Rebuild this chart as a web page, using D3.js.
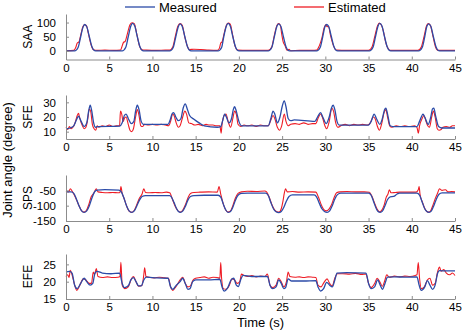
<!DOCTYPE html>
<html>
<head>
<meta charset="utf-8">
<script src="https://cdn.jsdelivr.net/npm/d3@7"></script>
<style>
  body { margin: 0; background: #fff; }
  text { font-family: "Liberation Sans", Arial, sans-serif; }
  .axis path, .axis line { stroke: #8c8c8c; }
  .axis text { fill: #000; font-size: 11.5px; }
</style>
</head>
<body>
<div id="chart-area"></div>
<script>
const canvas_width = 462;
const canvas_height = 331;

// time axis
const xTicks = [0, 5, 10, 15, 20, 25, 30, 35, 40, 45];

// panel names, y domains and y ticks
const panelNames = ['SAA', 'SFE', 'SPS', 'EFE'];
const yDomains = [[-30, 130], [5, 35], [-150, 0], [15, 28]];
const yTicks = [[0, 50, 100], [10, 20, 30], [-150, -100, -50], [15, 20, 25]];

// series: [time (s), angle (degree)]
const saaMeasured = [[0,0],[1.0,0],[1.4,12],[1.7,50],[1.95,82],[2.15,93],[2.4,85],[2.7,50],[3.0,15],[3.3,1],[3.6,0],
  [6.5,0],[6.9,12],[7.2,50],[7.5,88],[7.7,97],[7.95,88],[8.25,50],[8.55,15],[8.85,1],[9.1,0],
  [12.0,0],[12.4,12],[12.7,50],[13.0,86],[13.2,95],[13.45,86],[13.75,50],[14.05,15],[14.35,1],[14.6,0],
  [17.6,0],[18.0,12],[18.25,50],[18.55,88],[18.75,97],[19.0,88],[19.3,50],[19.6,15],[19.9,1],[20.2,0],
  [23.4,0],[23.8,12],[24.1,50],[24.4,87],[24.6,95],[24.85,87],[25.15,50],[25.45,15],[25.75,1],[26.0,0],
  [29.0,0],[29.4,12],[29.7,50],[29.95,85],[30.15,93],[30.4,85],[30.7,50],[31.0,15],[31.3,1],[31.6,0],
  [35.1,0],[35.5,12],[35.8,50],[36.1,88],[36.3,97],[36.55,88],[36.85,50],[37.15,15],[37.45,1],[37.7,0],
  [40.8,0],[41.2,12],[41.5,50],[41.75,87],[41.95,95],[42.2,87],[42.5,50],[42.8,15],[43.1,1],[43.4,0],[45,0]];

const saaEstimated = [[0,1],[0.9,2],[1.15,14],[1.3,28],[1.5,32],[1.75,62],[1.95,85],[2.15,92],[2.35,90],[2.6,60],[2.9,22],[3.2,4],[3.6,2],[4.5,3],[5.5,2],
  [6.3,3],[6.5,18],[6.65,30],[6.85,34],[7.1,60],[7.4,92],[7.65,99],[7.9,96],[8.2,58],[8.5,18],[8.8,4],[9.3,3],[10.5,2],[11.5,3],
  [12.0,3],[12.35,14],[12.65,52],[12.95,88],[13.2,96],[13.45,90],[13.7,55],[14.0,20],[14.3,5],[14.8,6],[15.6,5],[16.5,3],[17.5,2],
  [17.75,10],[17.9,28],[18.05,32],[18.3,62],[18.55,90],[18.75,98],[19.0,94],[19.25,60],[19.55,18],[19.85,3],[21,2],[22.5,2],
  [23.4,2],[23.8,14],[24.1,55],[24.4,90],[24.6,96],[24.8,90],[24.95,60],[25.1,35],[25.35,18],[25.55,3],[25.8,6],[26.0,1],[27,2],[28.5,2],
  [29.0,3],[29.3,18],[29.6,45],[29.85,80],[30.05,92],[30.2,85],[30.35,88],[30.6,55],[30.95,18],[31.3,3],[32.5,2],[34,2],
  [35.0,2],[35.4,14],[35.75,55],[36.05,90],[36.25,98],[36.5,90],[36.75,65],[36.95,35],[37.2,12],[37.5,2],[39,2],
  [40.7,2],[41.1,14],[41.45,55],[41.7,88],[41.9,96],[42.15,90],[42.45,52],[42.75,14],[43.05,2],[45,2]];

const sfeMeasured = [[0,12],[0.5,12.5],[0.9,14],[1.2,18],[1.45,20.5],[1.75,17],[2.1,13.5],[2.4,16],[2.65,25],[2.8,28],[2.95,25],[3.2,16],[3.4,13],[3.7,13.5],[6.2,13.8],
  [6.5,16],[6.75,21],[6.95,22],[7.2,19],[7.55,15.5],[7.85,17],[8.05,24],[8.25,28],[8.45,25],[8.7,17],[8.95,15],[10,15],[11.8,15],
  [12.05,18],[12.3,22.5],[12.45,23],[12.7,20],[13.0,17.5],[13.3,19],[13.55,26],[13.8,29],[14.0,26],[14.3,21],[14.8,18.5],[15.4,16],[16,14],[17.5,13],[17.9,13.5],
  [18.1,17],[18.35,22],[18.55,20],[18.85,16],[19.15,19],[19.35,25],[19.5,27],[19.7,24],[20.0,17],[20.3,14],[21,14],[23.4,14],
  [23.7,19],[23.95,24],[24.15,22],[24.45,16],[24.75,20],[25.0,27],[25.25,31],[25.45,27],[25.7,19],[26,17.5],[26.4,18],[28.8,17],
  [29.1,20],[29.45,23],[29.7,20],[30.1,15.5],[30.45,20],[30.7,26],[30.9,28],[31.1,25],[31.35,17],[31.6,14.5],[35,14.5],
  [35.3,17],[35.65,22],[35.9,19],[36.3,15],[36.6,19],[36.85,25],[37.0,26],[37.2,22],[37.5,14],[37.8,13.5],[40.6,13.5],
  [40.9,17],[41.3,22],[41.5,20],[41.9,15],[42.2,20],[42.4,25.5],[42.55,26],[42.75,21],[43.1,13.5],[43.5,12.5],[45,12.5]];

const sfeEstimated = [[0,13],[0.2,11.5],[0.4,13.5],[0.6,12],[0.8,13],[1.05,16],[1.3,21],[1.45,22.5],[1.6,19],[1.9,14],[2.1,12],[2.3,13],[2.5,18],[2.7,25.5],[2.85,24],[3.05,15],[3.25,12],[3.45,11],[3.6,14],[3.8,13],[4.2,14],[4.6,13.5],[5.0,14.5],[5.4,13.5],[5.8,14],[6.2,14],
  [6.3,24],[6.45,22],[6.6,17],[6.8,19.5],[6.95,20],[7.2,15],[7.4,11],[7.6,10],[7.8,12],[8.05,20],[8.25,25],[8.45,21],[8.65,14],[8.85,13.5],[9.1,15],[9.5,14.5],[10,15],[10.5,14.5],[11,15],[11.5,14.5],[11.9,14],
  [12.1,17],[12.35,22],[12.5,21],[12.75,16],[13.0,13],[13.2,14],[13.5,20],[13.75,24],[13.95,22],[14.2,16],[14.5,15.5],[14.9,14.5],[15.3,15],[15.8,14],[16.2,15],[16.6,14.5],[17.0,14.5],[17.4,14],[17.8,14],
  [17.95,9],[18.05,15],[18.3,21],[18.5,22],[18.8,16],[19.05,13],[19.3,19],[19.5,24],[19.7,22],[19.9,15],[20.2,13.5],[20.6,14.5],[21,14],[21.5,14.5],[22,13.5],[22.5,14.5],[23,14],[23.4,14],
  [23.7,18],[23.95,21],[24.15,19],[24.45,13],[24.7,11],[24.95,14],[25.25,22],[25.45,17],[25.7,14],[26,15],[26.5,15.5],[27,15],[27.5,16],[28,15],[28.5,15.5],[28.9,15.5],
  [29.15,19],[29.45,22],[29.65,20],[29.95,14],[30.15,12],[30.45,17],[30.75,26],[30.95,24],[31.2,16],[31.45,13],[31.8,14],[32.3,15],[32.8,14],[33.3,15],[33.8,14.5],[34.3,15],[34.9,14.5],
  [35.2,16],[35.55,20],[35.75,19],[36.0,14],[36.25,11],[36.5,15],[36.8,23],[37.0,25],[37.2,20],[37.45,14],[37.7,13],[38.2,14],[38.7,13.5],[39.2,14],[39.7,13.5],[40.3,14],[40.6,13],
  [40.75,9],[40.9,14],[41.2,19],[41.4,21],[41.6,18],[41.85,14],[42.05,13],[42.3,20],[42.5,24],[42.7,20],[42.95,12],[43.15,11],[43.4,11.5],[43.6,13],[44,13.5],[44.4,13],[44.7,14],[45,14]];

const spsMeasured = [[0,-55],[0.6,-55],[0.9,-60],[1.2,-78],[1.5,-100],[1.8,-117],[2.1,-122],[2.4,-117],[2.7,-100],[3.0,-75],[3.3,-55],[3.6,-49],[4.5,-48],[6.1,-49],
  [6.4,-55],[6.7,-75],[7.0,-100],[7.3,-117],[7.6,-122],[7.9,-117],[8.2,-100],[8.5,-82],[8.8,-70],[9.2,-67],[10.5,-67],[12,-67],
  [12.2,-72],[12.5,-90],[12.8,-110],[13.0,-119],[13.25,-122],[13.5,-118],[13.8,-103],[14.1,-82],[14.4,-70],[14.8,-67],[16,-66],[17.6,-66],
  [17.9,-72],[18.2,-95],[18.5,-115],[18.75,-122],[19.0,-120],[19.3,-105],[19.6,-82],[19.9,-66],[20.3,-60],[21,-59],[23.1,-59],
  [23.4,-67],[23.7,-90],[24.0,-110],[24.3,-120],[24.6,-123],[24.9,-119],[25.2,-105],[25.5,-85],[25.8,-70],[26.2,-65],[28.7,-65],
  [29.0,-72],[29.3,-92],[29.6,-110],[29.9,-119],[30.2,-122],[30.5,-117],[30.8,-100],[31.1,-78],[31.4,-64],[31.8,-59],[35,-59],
  [35.3,-66],[35.6,-88],[35.9,-110],[36.1,-119],[36.35,-122],[36.6,-118],[36.9,-100],[37.2,-80],[37.5,-71],[37.9,-70],[38.3,-62],[38.6,-59],[40.6,-59],
  [40.9,-66],[41.2,-88],[41.5,-110],[41.75,-119],[42.0,-122],[42.25,-118],[42.55,-100],[42.85,-78],[43.15,-63],[43.5,-58],[45,-58]];

const spsEstimated = [[0,-52],[0.3,-55],[0.5,-45],[0.7,-52],[0.9,-62],[1.2,-80],[1.5,-100],[1.8,-116],[2.05,-121],[2.35,-116],[2.65,-95],[2.9,-72],[3.2,-60],[3.5,-45],[3.7,-55],[4.2,-57],[4.8,-58],[5.4,-57],[6.0,-58],[6.25,-57],
  [6.35,-38],[6.5,-60],[6.7,-75],[7.0,-100],[7.3,-118],[7.6,-122],[7.9,-115],[8.2,-96],[8.5,-75],[8.8,-62],[9.0,-45],[9.2,-57],[9.7,-58],[10.3,-57],[11,-58],[11.6,-56],[12,-58],
  [12.3,-78],[12.6,-100],[12.9,-115],[13.2,-121],[13.5,-115],[13.8,-98],[14.1,-75],[14.4,-60],[14.8,-57],[15.5,-56],[16.5,-55],[17.5,-56],[17.7,-38],[17.9,-62],
  [18.2,-95],[18.5,-115],[18.75,-121],[19.0,-118],[19.3,-100],[19.6,-75],[19.9,-60],[20.3,-55],[21,-53],[22,-54],[23,-52],[23.2,-55],
  [23.5,-72],[23.8,-95],[24.1,-113],[24.4,-120],[24.65,-121],[24.9,-110],[25.1,-85],[25.25,-60],[25.4,-45],[25.6,-55],[26.2,-54],[27,-56],[28,-55],[28.9,-56],
  [29.2,-72],[29.5,-95],[29.8,-112],[30.1,-117],[30.4,-112],[30.7,-98],[31.0,-75],[31.3,-58],[31.7,-55],[32.5,-54],[33.5,-55],[34.5,-55],[35.1,-56],
  [35.4,-70],[35.7,-92],[36.0,-112],[36.25,-120],[36.5,-116],[36.8,-98],[37.05,-72],[37.25,-62],[37.4,-48],[37.6,-58],[38.1,-57],[38.6,-56],[39.5,-56],[40.5,-56],[40.75,-48],[40.85,-38],[40.95,-62],
  [41.25,-90],[41.55,-112],[41.85,-121],[42.1,-120],[42.4,-102],[42.7,-78],[43.0,-58],[43.2,-45],[43.5,-50],[43.9,-48],[44.2,-55],[44.6,-54],[45,-55]];

const efeMeasured = [[0,22.8],[0.4,23],[0.7,22.5],[1.0,19],[1.3,18],[1.7,19.5],[2.1,21],[2.4,20],[2.8,19],[3.1,19.5],[3.35,22.5],[3.6,23],[4.2,22.5],[5.2,22.3],[6.2,22.5],
  [6.5,19.5],[6.75,18.3],[7.2,18.8],[7.5,20.5],[7.8,21.2],[8.1,20],[8.4,18.8],[8.7,18.8],[9.0,20.5],[9.3,21.3],[10.5,21.1],[11.8,21],
  [12.1,18.5],[12.35,17.8],[12.7,18.8],[13.2,20],[13.5,21],[13.8,19.5],[14.1,17.8],[14.35,18],[14.65,20],[15,20.5],[16.5,20.5],[17.8,20.7],
  [18.05,18.5],[18.3,17.3],[18.7,18.2],[19.1,20.5],[19.4,21],[19.7,19],[19.95,18.6],[20.2,20.5],[20.5,21.8],[21.5,21.5],[22.5,21.5],[23.3,21.5],
  [23.6,19],[23.9,18],[24.3,18.5],[24.6,20.5],[24.9,19.5],[25.2,18],[25.4,18.3],[25.7,20.8],[26.1,20.2],[27.5,20.2],[28.9,20.3],
  [29.15,18.5],[29.45,17.3],[29.8,18],[30.15,19.8],[30.5,19],[30.8,18.5],[31.1,20.5],[31.35,22.5],[32.5,22.6],[34.7,22.5],
  [35,19.5],[35.3,18],[35.7,18.5],[36.05,20.5],[36.35,19],[36.6,17.8],[36.9,19.5],[37.2,21.3],[38,21.4],[39.5,21.3],[40.6,21.4],
  [40.85,19],[41.1,17.5],[41.5,18.5],[41.8,20.3],[42.1,19],[42.4,17.8],[42.7,19],[43.0,22.5],[43.2,23.2],[44,23.1],[45,23.1]];

const efeEstimated = [[0,21.5],[0.2,22],[0.35,21.2],[0.5,23.3],[0.7,22],[0.95,19.5],[1.25,17.5],[1.6,19],[2.0,20.8],[2.3,20.5],[2.7,19.5],[2.95,19.5],[3.15,22.8],[3.3,22],[3.5,23.8],[3.7,21.5],[4.2,21.2],[4.8,21.4],[5.4,21.2],[6.0,21.3],[6.25,21.5],
  [6.35,25.6],[6.5,19],[6.8,18],[7.2,18.5],[7.6,21],[7.8,21.5],[8.1,20],[8.4,18.7],[8.8,19],[9.0,22],[9.1,24],[9.25,21.5],[9.6,21.3],[10.2,21.1],[10.8,21.3],[11.4,21.1],[11.85,21],
  [12.1,18.5],[12.35,17.5],[12.7,18.5],[13.2,20.5],[13.5,21.3],[13.8,19.5],[14.1,18.5],[14.4,18.8],[14.7,20.5],[15,21],[15.5,21.2],[16,21.4],[16.5,21],[17,21.3],[17.5,21.2],[17.8,21],
  [17.9,25.5],[18.0,21],[18.2,18],[18.5,17.8],[18.9,19],[19.2,20.8],[19.5,20.5],[19.8,19.5],[20.1,20],[20.3,22.2],[20.6,21.8],[21,21.5],[21.5,21.8],[22,21.4],[22.5,21.6],[23,21.5],[23.3,22.2],
  [23.6,19],[23.9,18.3],[24.3,19],[24.6,21],[24.9,20],[25.2,18.5],[25.5,20],[25.7,22.8],[25.9,21.5],[26.5,21.3],[27,21.4],[27.5,21.2],[28,21.4],[28.5,21.3],[28.9,21.2],
  [29.15,19],[29.5,18.5],[29.85,19.8],[30.2,20.8],[30.5,19.5],[30.8,18.8],[31.1,21],[31.4,22.3],[32,22.3],[32.8,22.2],[33.5,22.4],[34.2,22.1],[34.7,22.2],
  [35,19.5],[35.3,18.3],[35.7,19.5],[36.0,21],[36.3,20],[36.6,18.7],[36.9,20.5],[37.1,22],[37.4,21.3],[38,21.6],[38.6,21.4],[39.2,21.6],[39.8,21.5],[40.4,21.8],[40.6,22],
  [40.75,25.5],[40.9,21],[41.1,18],[41.45,18.5],[41.8,20.5],[42.1,21],[42.4,19],[42.7,19.5],[43.0,23],[43.2,24.2],[43.4,23],[43.7,23.5],[44,22.5],[44.4,22],[44.7,22.5],[45,21.8]];

const measured = [saaMeasured, sfeMeasured, spsMeasured, efeMeasured];
const estimated = [saaEstimated, sfeEstimated, spsEstimated, efeEstimated];
const legendLabels = ['Measured', 'Estimated'];

const blue = '#2b4ba8';
const red = '#ee1c25';

// panel placement
const left = 66, right = 455;
const panelTop = [14, 95, 175, 254];
const panelHeight = [45.5, 44, 46, 45];

let canvas = d3.select('#chart-area').append('svg')
    .attr('width', canvas_width)
    .attr('height', canvas_height);

let x = d3.scaleLinear().domain([0, 45]).range([left, right]);

panelNames.forEach((name, i) => {
    let top = panelTop[i];
    let bottom = top + panelHeight[i];
    let y = d3.scaleLinear().domain(yDomains[i]).range([bottom, top]);

    let line = d3.line()
        .x((d) => { return x(d[0]); })
        .y((d) => { return y(d[1]); })
        .curve(d3.curveMonotoneX);

    canvas.append('path')
        .datum(estimated[i])
        .attr('d', line)
        .attr('fill', 'none')
        .attr('stroke', red)
        .attr('stroke-width', 1.1);

    canvas.append('path')
        .datum(measured[i])
        .attr('d', line)
        .attr('fill', 'none')
        .attr('stroke', blue)
        .attr('stroke-width', 1.3);

    let bottomAxis = d3.axisBottom(x)
        .tickValues(xTicks)
        .tickSizeInner(-3)
        .tickSizeOuter(0)
        .tickPadding(4);

    canvas.append('g')
        .attr('class', 'bottom axis')
        .attr('transform', `translate(0, ${bottom})`)
        .call(bottomAxis);

    // plain hyphen for negative numbers, as in the original
    let leftAxis = d3.axisLeft(y)
        .tickValues(yTicks[i])
        .tickFormat((d) => { return String(d); })
        .tickSizeInner(-3)
        .tickSizeOuter(0)
        .tickPadding(10);

    canvas.append('g')
        .attr('class', 'left axis')
        .attr('transform', `translate(${left}, 0)`)
        .call(leftAxis);

    canvas.append('text')
        .attr('x', -(top + bottom) / 2)
        .attr('y', 32)
        .attr('font-size', '12px')
        .attr('text-anchor', 'middle')
        .attr('transform', 'rotate(-90)')
        .text(name);
});

canvas.selectAll('.axis .domain').attr('stroke', '#8c8c8c');

canvas.append('text')
    .attr('x', (left + right) / 2)
    .attr('y', 327)
    .attr('font-size', '13px')
    .attr('text-anchor', 'middle')
    .text('Time (s)');

canvas.append('text')
    .attr('x', -160)
    .attr('y', 12)
    .attr('font-size', '13px')
    .attr('text-anchor', 'middle')
    .attr('transform', 'rotate(-90)')
    .text('Joint angle (degree)');

// legend
let legendX = [125, 294];
legendLabels.forEach((label, i) => {
    canvas.append('line')
        .attr('x1', legendX[i]).attr('x2', legendX[i] + 30)
        .attr('y1', 7).attr('y2', 7)
        .attr('stroke', i === 0 ? blue : red)
        .attr('stroke-width', 1.3);
    canvas.append('text')
        .attr('x', legendX[i] + 34)
        .attr('y', 12)
        .attr('font-size', '13px')
        .text(label);
});
</script>
</body>
</html>
